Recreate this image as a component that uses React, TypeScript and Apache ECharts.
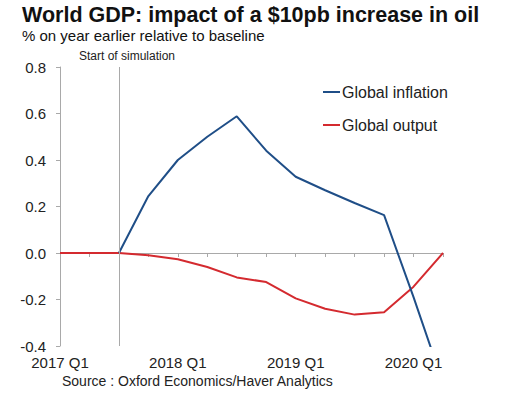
import React, { useEffect, useRef } from "react";
import * as echarts from "echarts";

const categories = [
  "2017 Q1", "2017 Q2", "2017 Q3", "2017 Q4",
  "2018 Q1", "2018 Q2", "2018 Q3", "2018 Q4",
  "2019 Q1", "2019 Q2", "2019 Q3", "2019 Q4",
  "2020 Q1", "2020 Q2",
];
const inflation = [null, null, 0, 0.245, 0.4, 0.5, 0.588, 0.44, 0.328, 0.27, 0.215, 0.163, -0.19, -0.56];
const output = [0, 0, 0, -0.01, -0.027, -0.06, -0.105, -0.125, -0.195, -0.24, -0.265, -0.255, -0.145, 0.0];
const yTicks = { min: -0.4, max: 0.8, interval: 0.2 };
const simulationStart = "2017 Q3";

const FONT = "'Liberation Sans', Arial, Helvetica, sans-serif";
const BLUE = "#1f4e87";
const RED = "#d42a2f";
const AXIS = "#a9a9a9";

export default function App() {
  const ref = useRef<HTMLDivElement>(null);
  useEffect(() => {
    if (!ref.current) return;
    const chart = echarts.init(ref.current, undefined, { renderer: "svg" });
    chart.setOption({
      animation: false,
      backgroundColor: "#ffffff",
      textStyle: { fontFamily: FONT },
      title: {
        text: "World GDP: impact of a $10pb increase in oil",
        subtext: "% on year earlier relative to baseline",
        left: 17,
        top: -1,
        itemGap: 2,
        textStyle: { fontFamily: FONT, fontSize: 21.5, fontWeight: "bold", color: "#111" },
        subtextStyle: { fontFamily: FONT, fontSize: 15, color: "#111" },
      },
      legend: {
        orient: "vertical",
        left: 318,
        top: 79,
        icon: "rect",
        itemWidth: 17,
        itemHeight: 2,
        itemGap: 17,
        textStyle: { fontFamily: FONT, fontSize: 16, color: "#222", padding: [0, 0, 0, -3] },
        data: ["Global inflation", "Global output"],
      },
      grid: { left: 60, right: 75, top: 67, bottom: 54, containLabel: false },
      xAxis: [
        {
          type: "category",
          data: categories,
          boundaryGap: false,
          position: "bottom",
          axisLine: { show: false, onZero: false },
          axisTick: { show: false },
          axisLabel: {
            interval: 3,
            margin: 9,
            fontSize: 15,
            color: "#222",
            fontFamily: FONT,
          },
          splitLine: { show: false },
        },
        {
          type: "category",
          data: categories,
          boundaryGap: false,
          position: "bottom",
          axisLine: { show: true, onZero: true, lineStyle: { color: AXIS, width: 1 } },
          axisTick: { show: true, inside: false, length: 4, interval: 0, lineStyle: { color: AXIS } },
          axisLabel: { show: false },
          splitLine: { show: false },
        },
      ],
      yAxis: {
        type: "value",
        min: yTicks.min,
        max: yTicks.max,
        interval: yTicks.interval,
        axisLine: { show: true, lineStyle: { color: AXIS } },
        axisTick: { show: true, length: 4, lineStyle: { color: AXIS } },
        axisLabel: {
          margin: 14,
          fontSize: 15,
          color: "#222",
          fontFamily: FONT,
          formatter: (v: number) => v.toFixed(1),
        },
        splitLine: { show: false },
      },
      series: [
        {
          name: "Global output",
          type: "line",
          data: output,
          xAxisIndex: 0,
          symbol: "none",
          lineStyle: { color: RED, width: 2 },
          itemStyle: { color: RED },
          z: 3,
          markLine: {
            silent: true,
            symbol: "none",
            label: { show: false },
            lineStyle: { color: AXIS, width: 1, type: "solid" },
            data: [{ xAxis: simulationStart }],
          },
        },
        {
          name: "Global inflation",
          type: "line",
          data: inflation,
          xAxisIndex: 0,
          symbol: "none",
          connectNulls: false,
          clip: true,
          lineStyle: { color: BLUE, width: 2 },
          itemStyle: { color: BLUE },
          z: 4,
        },
      ],
      graphic: [
        {
          type: "text",
          left: 79,
          top: 50,
          style: { text: "Start of simulation", fontSize: 12, fill: "#222", fontFamily: FONT },
        },
        {
          type: "text",
          left: 62,
          top: 374,
          style: { text: "Source : Oxford Economics/Haver Analytics", fontSize: 14, fill: "#222", fontFamily: FONT },
        },
      ],
    });
    return () => chart.dispose();
  }, []);
  return (
    <div
      ref={ref}
      style={{ position: "fixed", left: 0, top: 0, width: 518, height: 400, background: "#fff" }}
    />
  );
}
